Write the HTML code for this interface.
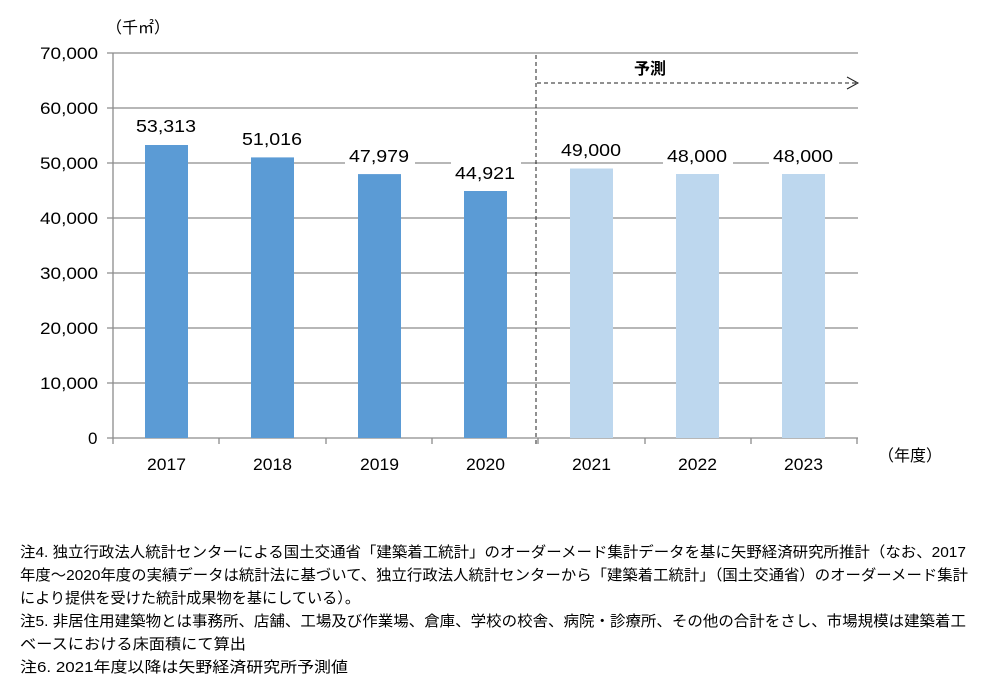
<!DOCTYPE html>
<html><head><meta charset="utf-8"><style>
html,body{margin:0;padding:0;background:#fff;}
svg{display:block;}
text{font-family:"Liberation Sans","Noto Sans CJK JP",sans-serif;fill:#000;}
</style></head><body>
<svg width="1007" height="692" viewBox="0 0 1007 692" xmlns="http://www.w3.org/2000/svg">
<g stroke="#8c8c8c" stroke-width="1.3">
<line x1="107" y1="53" x2="858" y2="53"/>
<line x1="107" y1="108" x2="858" y2="108"/>
<line x1="107" y1="163" x2="858" y2="163"/>
<line x1="107" y1="218" x2="858" y2="218"/>
<line x1="107" y1="273" x2="858" y2="273"/>
<line x1="107" y1="328" x2="858" y2="328"/>
<line x1="107" y1="383" x2="858" y2="383"/>
<line x1="107" y1="438" x2="858" y2="438"/>
<line x1="113" y1="53" x2="113" y2="444"/>
<line x1="219" y1="438" x2="219" y2="444"/><line x1="326" y1="438" x2="326" y2="444"/>
<line x1="432" y1="438" x2="432" y2="444"/><line x1="538" y1="438" x2="538" y2="444"/>
<line x1="645" y1="438" x2="645" y2="444"/><line x1="751" y1="438" x2="751" y2="444"/>
<line x1="857" y1="438" x2="857" y2="444"/>
</g>
<g fill="#5b9bd5">
<rect x="145" y="145" width="43" height="293"/>
<rect x="251" y="157.4" width="43" height="280.6"/>
<rect x="358" y="174.1" width="43" height="263.9"/>
<rect x="464" y="191" width="43" height="247"/>
</g>
<g fill="#bdd7ee">
<rect x="570" y="168.5" width="43" height="269.5"/>
<rect x="676" y="174" width="43" height="264"/>
<rect x="782" y="174" width="43" height="264"/>
</g>
<g fill="#fff">
<rect x="132" y="112" width="70" height="24"/><rect x="238" y="125" width="70" height="24"/>
<rect x="345" y="143" width="70" height="24"/><rect x="451" y="160" width="70" height="24"/>
<rect x="557" y="137" width="70" height="24"/><rect x="663" y="143" width="70" height="24"/>
<rect x="769" y="143" width="70" height="24"/>
</g>
<g font-size="17.5">
<text x="136" y="132" textLength="60" lengthAdjust="spacingAndGlyphs">53,313</text>
<text x="242" y="145" textLength="60" lengthAdjust="spacingAndGlyphs">51,016</text>
<text x="349" y="162" textLength="60" lengthAdjust="spacingAndGlyphs">47,979</text>
<text x="455" y="179" textLength="60" lengthAdjust="spacingAndGlyphs">44,921</text>
<text x="561" y="156" textLength="60" lengthAdjust="spacingAndGlyphs">49,000</text>
<text x="667" y="162" textLength="60" lengthAdjust="spacingAndGlyphs">48,000</text>
<text x="773" y="162" textLength="60" lengthAdjust="spacingAndGlyphs">48,000</text>
</g>
<g font-size="17">
<text x="40" y="59" textLength="58" lengthAdjust="spacingAndGlyphs">70,000</text>
<text x="40" y="114" textLength="58" lengthAdjust="spacingAndGlyphs">60,000</text>
<text x="40" y="169" textLength="58" lengthAdjust="spacingAndGlyphs">50,000</text>
<text x="40" y="224" textLength="58" lengthAdjust="spacingAndGlyphs">40,000</text>
<text x="40" y="279" textLength="58" lengthAdjust="spacingAndGlyphs">30,000</text>
<text x="40" y="334" textLength="58" lengthAdjust="spacingAndGlyphs">20,000</text>
<text x="40" y="389" textLength="58" lengthAdjust="spacingAndGlyphs">10,000</text>
<text x="88" y="444">0</text>
</g>
<g font-size="16.5">
<text x="147" y="470" textLength="39" lengthAdjust="spacingAndGlyphs">2017</text>
<text x="253" y="470" textLength="39" lengthAdjust="spacingAndGlyphs">2018</text>
<text x="360" y="470" textLength="39" lengthAdjust="spacingAndGlyphs">2019</text>
<text x="466" y="470" textLength="39" lengthAdjust="spacingAndGlyphs">2020</text>
<text x="572" y="470" textLength="39" lengthAdjust="spacingAndGlyphs">2021</text>
<text x="678" y="470" textLength="39" lengthAdjust="spacingAndGlyphs">2022</text>
<text x="784" y="470" textLength="39" lengthAdjust="spacingAndGlyphs">2023</text>
</g>
<text x="910" y="461" font-size="16" text-anchor="middle">（年度）</text>
<text x="106" y="33" font-size="16">（千㎡）</text>
<line x1="536" y1="55" x2="536" y2="444" stroke="#222" stroke-width="1" stroke-dasharray="4,3"/>
<line x1="537" y1="83" x2="857" y2="83" stroke="#222" stroke-width="1" stroke-dasharray="4,3"/>
<polyline points="847,77 858,83 847,89" fill="none" stroke="#222" stroke-width="1"/>
<text x="650" y="74" font-size="16" font-weight="bold" text-anchor="middle">予測</text>
<g font-size="15">
<text x="20" y="557" textLength="946" lengthAdjust="spacingAndGlyphs">注4. 独立行政法人統計センターによる国土交通省「建築着工統計」のオーダーメード集計データを基に矢野経済研究所推計（なお、2017</text>
<text x="20" y="580" textLength="948" lengthAdjust="spacingAndGlyphs">年度～2020年度の実績データは統計法に基づいて、独立行政法人統計センターから「建築着工統計」（国土交通省）のオーダーメード集計</text>
<text x="20" y="603" textLength="340" lengthAdjust="spacingAndGlyphs">により提供を受けた統計成果物を基にしている）。</text>
<text x="20" y="626" textLength="946" lengthAdjust="spacingAndGlyphs">注5. 非居住用建築物とは事務所、店舗、工場及び作業場、倉庫、学校の校舎、病院・診療所、その他の合計をさし、市場規模は建築着工</text>
<text x="20" y="649" textLength="226" lengthAdjust="spacingAndGlyphs">ベースにおける床面積にて算出</text>
<text x="20" y="672" textLength="328" lengthAdjust="spacingAndGlyphs">注6. 2021年度以降は矢野経済研究所予測値</text>
</g>
</svg>
</body></html>
